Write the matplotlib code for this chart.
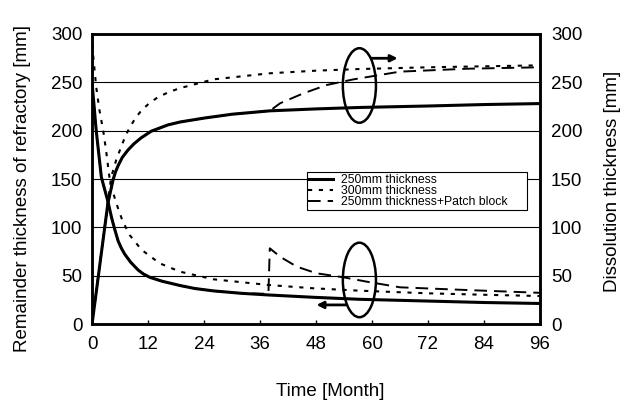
import matplotlib
matplotlib.use("Agg")
import matplotlib.pyplot as plt
from matplotlib.patches import Ellipse

plt.rcParams["font.family"] = ["Liberation Sans", "DejaVu Sans"]

# remainder thickness (left axis) [mm]
t_rem_250 = [0, 0.9, 2.0, 3.4, 4.2, 4.9, 5.6, 6.3, 7.0, 8.3, 9.9, 11, 12.4, 15, 18.9, 22, 26, 32, 37.8, 47.4, 57.4, 72, 84, 96]
rem_250 = [250, 200, 152, 127, 110, 97.5, 86, 78.5, 72.5, 64, 56, 52, 48.5, 44.5, 40, 37, 34.5, 32, 30.3, 27.9, 25.8, 24, 22.5, 21.5]

t_rem_300 = [0, 0.2, 0.9, 1.6, 2.4, 3.0, 3.7, 4.4, 5.2, 6.6, 8.1, 10.6, 14.5, 18.9, 26, 37.8, 47.4, 57.4, 72, 84, 96]
rem_300 = [300, 280, 245, 221, 200, 180, 153, 138, 125, 106, 92, 77, 63, 54.3, 46.5, 40.6, 37.2, 34.7, 32, 30.5, 29.2]

t_rem_patch = [0, 0.9, 2.0, 3.4, 4.2, 4.9, 5.6, 6.3, 7.0, 8.3, 9.9, 11, 12.4, 15, 18.9, 22, 26, 32, 37.8,
               38.1, 40.3, 43.9, 48.1, 53.9, 58.9, 66, 80.3, 96]
rem_patch = [250, 200, 152, 127, 110, 97.5, 86, 78.5, 72.5, 64, 56, 52, 48.5, 44.5, 40, 37, 34.5, 32, 31.5,
             78.5, 69.8, 59.5, 52.7, 48.5, 44, 38.2, 35.4, 32.5]

# dissolution thickness (right axis) [mm]
t_dis_250 = [0, 3.4, 4.5, 5.0, 5.6, 6.5, 7.7, 9.0, 10.5, 12.7, 16.3, 18.9, 24, 30, 38.1, 48, 57.4, 72, 84, 96]
dis_250 = [0, 125, 149, 157, 164, 172.5, 180, 186.5, 192.5, 199.5, 206, 209, 213, 217, 220.5, 222.5, 224, 225.5, 227, 228]

t_dis_300 = [0, 4.1, 5.2, 6.3, 7.2, 8.1, 9.3, 10.6, 12.3, 14.1, 16.5, 18.9, 26, 38.1, 48, 57.4, 72, 84, 96]
dis_300 = [0, 152, 170, 184, 195, 203.5, 213, 221, 228.5, 234.5, 240, 244, 253, 259.3, 262, 263.7, 265.5, 266.5, 267.5]

t_dis_patch = [0, 3.4, 4.5, 5.0, 5.6, 6.5, 7.7, 9.0, 10.5, 12.7, 16.3, 18.9, 24, 30, 38.1,
               40.3, 45.3, 50.3, 56, 66, 80.3, 96]
dis_patch = [0, 125, 149, 157, 164, 172.5, 180, 186.5, 192.5, 199.5, 206, 209, 213, 217, 220.5,
             228.3, 238.6, 247.2, 253, 261, 264, 265.5]

labels = ["250mm thickness", "300mm thickness", "250mm thickness+Patch block"]
x_ticks = [0, 12, 24, 36, 48, 60, 72, 84, 96]
y_ticks = [0, 50, 100, 150, 200, 250, 300]

fig = plt.figure(figsize=(6.26, 4.01), dpi=100)
ax = fig.add_axes([0.147, 0.1913, 0.7156, 0.7242])
ax2 = ax.twinx()

dot = (0, (2, 3.2))
dash = (0, (6.5, 3.6))

l1, = ax.plot(t_rem_250, rem_250, color="k", lw=2.2, zorder=4)
l2, = ax.plot(t_rem_300, rem_300, color="k", lw=1.5, linestyle=dot, zorder=3)
l3, = ax.plot(t_rem_patch, rem_patch, color="k", lw=1.4, linestyle=dash, zorder=3)
ax2.plot(t_dis_250, dis_250, color="k", lw=2.2, zorder=4)
ax2.plot(t_dis_300, dis_300, color="k", lw=1.5, linestyle=dot, zorder=3)
ax2.plot(t_dis_patch, dis_patch, color="k", lw=1.4, linestyle=dash, zorder=3)

for a in (ax, ax2):
    a.set_xlim(0, 96)
    a.set_ylim(0, 300)
    a.set_yticks(y_ticks)
    for s in a.spines.values():
        s.set_linewidth(1.8)

for y in y_ticks[1:-1]:
    ax.axhline(y, color="k", lw=0.8, zorder=1)

ax.set_xticks(x_ticks)
ax.tick_params(axis="x", direction="in", length=3, width=1, pad=8.5, labelsize=13.5)
ax.tick_params(axis="y", length=0, pad=7, labelsize=13.5)
ax2.tick_params(axis="y", length=0, pad=8, labelsize=13.5)

ax.text(-0.156, 0.466, "Remainder thickness of refractory [mm]", transform=ax.transAxes,
        rotation=90, ha="center", va="center", fontsize=13.5)
ax.text(1.161, 0.493, "Dissolution thickness [mm]", transform=ax.transAxes,
        rotation=90, ha="center", va="center", fontsize=13.5)
ax.text(0.531, -0.232, "Time [Month]", transform=ax.transAxes,
        ha="center", va="center", fontsize=13.5)

# ellipses + arrows marking which axis each group belongs to
ax.add_patch(Ellipse((57.3, 246.7), 7.1, 77, fill=False, lw=1.8, ec="k", zorder=5))
ax.add_patch(Ellipse((57.3, 45.8), 7.1, 77, fill=False, lw=1.8, ec="k", zorder=5))
ax.annotate("", xy=(65.5, 274.8), xytext=(59.9, 274.8),
            arrowprops=dict(arrowstyle="-|>", color="k", lw=2, mutation_scale=10, shrinkA=0, shrinkB=0))
ax.annotate("", xy=(48.1, 20), xytext=(54.5, 20),
            arrowprops=dict(arrowstyle="-|>", color="k", lw=2, mutation_scale=10, shrinkA=0, shrinkB=0))

leg = ax.legend([l1, l2, l3], labels, loc="upper left", bbox_to_anchor=(0.479, 0.3, 0.491, 0.223),
                mode="expand", fontsize=8.8, frameon=True, fancybox=False, framealpha=1,
                edgecolor="k", borderpad=0.15, labelspacing=-0.1, handlelength=2.0,
                handletextpad=0.7, borderaxespad=0)
leg.get_frame().set_linewidth(0.8)
leg.set_zorder(6)

fig.savefig("out.png", dpi=100)
